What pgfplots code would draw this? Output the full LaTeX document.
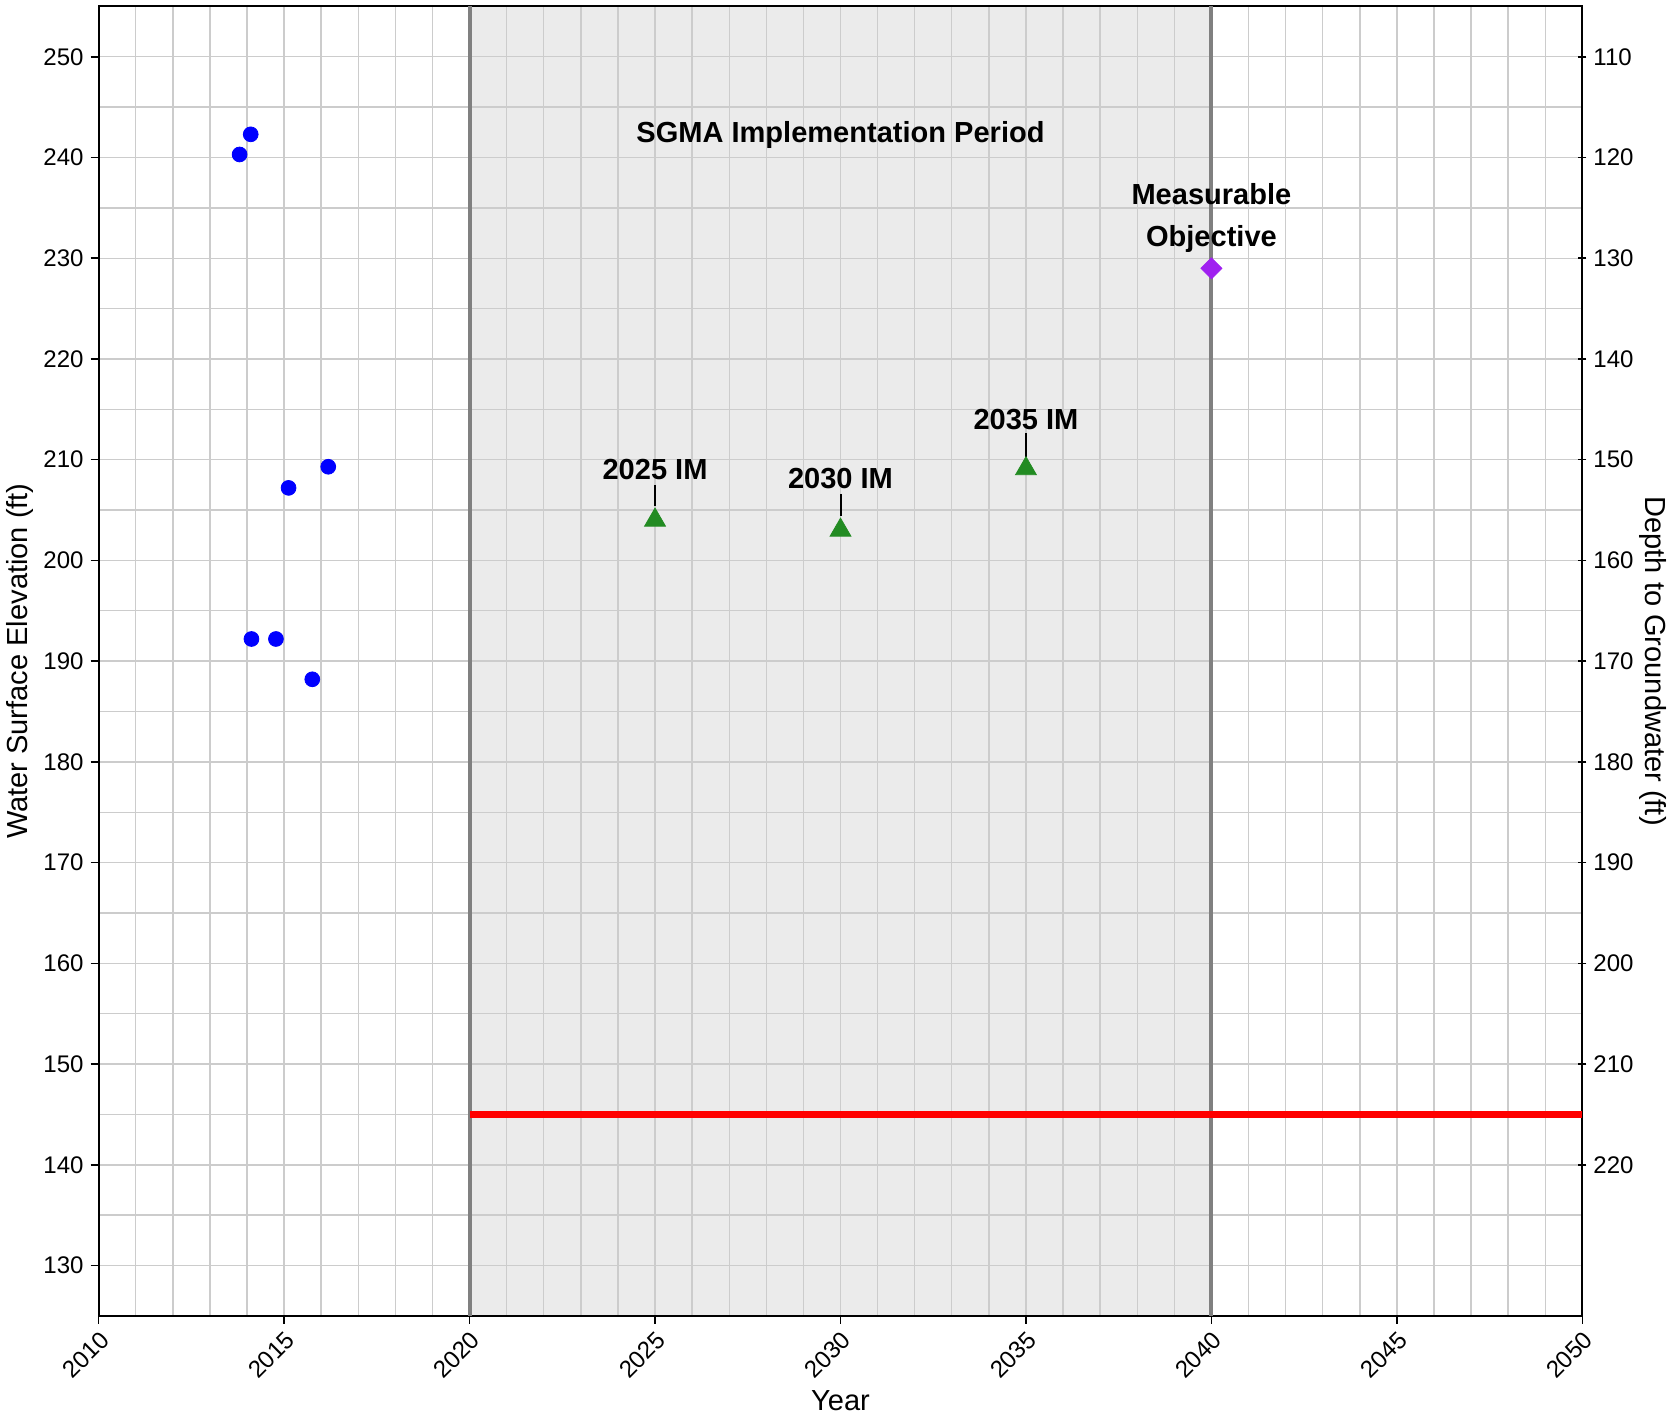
\documentclass[border=0pt]{standalone}
\usepackage{fontspec}
\setmainfont{Liberation Sans}
\usepackage{pgfplots}
\pgfplotsset{compat=1.18}
\definecolor{imgreen}{RGB}{34,139,34}
\definecolor{mopurple}{RGB}{160,32,240}
\definecolor{shade}{RGB}{235,235,235}
\definecolor{gridc}{RGB}{204,204,204}
\definecolor{vline}{RGB}{128,128,128}

\begin{document}
\begin{tikzpicture}
\pgfplotsset{
  set layers,
  common/.style={
    scale only axis, width=741pt, height=654pt,
    xmin=2010, xmax=2050,
    tick align=outside,
    major tick length=4pt, minor tick length=0pt,
    tick style={black, line width=0.8pt},
    axis line style={line width=1pt},
    ticklabel style={font=\fontsize{12}{14}\selectfont},
    /pgf/number format/assume math mode=true,
    /pgf/number format/1000 sep={},
    label style={font=\fontsize{14.5}{17}\selectfont},
  },
}
\begin{axis}[
  common, name=main,
  ymin=125, ymax=255,
  xtick={2010,2015,...,2050}, ytick={130,140,...,250},
  minor x tick num=4, minor y tick num=1,
  grid=both,
  major grid style={gridc, line width=0.7pt},
  minor grid style={gridc, line width=0.7pt},
  tick pos=left,
  xticklabel style={rotate=45, anchor=north east, inner sep=2pt},
  xlabel={Year}, ylabel={Water Surface Elevation (ft)},
  xlabel style={yshift=1pt},
  ylabel shift=-2pt,
]
% SGMA implementation period
\addplot[draw=none, fill=shade, on layer=axis background]
  coordinates {(2020,125) (2040,125) (2040,255) (2020,255)} \closedcycle;
\addplot[vline, line width=2pt] coordinates {(2020,125) (2020,255)};
\addplot[vline, line width=2pt] coordinates {(2040,125) (2040,255)};
% minimum threshold
\addplot[red, line width=3.2pt] coordinates {(2020,145) (2050,145)};
% observed levels
\addplot[only marks, mark=*, mark size=3.7pt, color=blue] coordinates {
  (2013.8,240.3) (2014.1,242.3) (2015.12,207.2) (2016.19,209.3)
  (2014.12,192.2) (2014.78,192.2) (2015.76,188.2)
};
% interim milestones
\addplot[only marks, mark=triangle*, mark size=6pt, color=imgreen,
  mark options={yshift=-1.5pt}] coordinates {
  (2025,204.3) (2030,203.3) (2035,209.4)
};
% measurable objective
\addplot[only marks, mark=square*, mark size=3.7pt, color=mopurple,
  mark options={rotate=45}] coordinates {(2040,229.0)};

\draw[line width=1pt] (axis cs:2025,207.5) -- (axis cs:2025,205.4);
\draw[line width=1pt] (axis cs:2030,206.6) -- (axis cs:2030,204.4);
\draw[line width=1pt] (axis cs:2035,212.6) -- (axis cs:2035,210.3);
\begin{scope}[every node/.style={font=\bfseries\fontsize{14.5}{20.8}\selectfont}]
\node at (axis cs:2030,242.2) {SGMA Implementation Period};
\node at (axis cs:2025,209.0) {2025 IM};
\node at (axis cs:2030,208.1) {2030 IM};
\node at (axis cs:2035,214.0) {2035 IM};
\node[align=center] at (axis cs:2040,234.0) {Measurable\\Objective};
\end{scope}
\end{axis}

\begin{axis}[
  common,
  ymin=105, ymax=235, y dir=reverse,
  axis x line=none, axis y line=right,
  axis line style={line width=1pt, -},
  ytick={110,120,...,220},
  ylabel={Depth to Groundwater (ft)},
  ylabel style={font=\fontsize{14.5}{17}\selectfont, rotate=180},
  ylabel shift=-4pt,
]
\addplot[draw=none] coordinates {(2010,110)};
\end{axis}
\path ([yshift=2.7pt]main.north) node[inner sep=0pt] {};
\end{tikzpicture}
\end{document}
